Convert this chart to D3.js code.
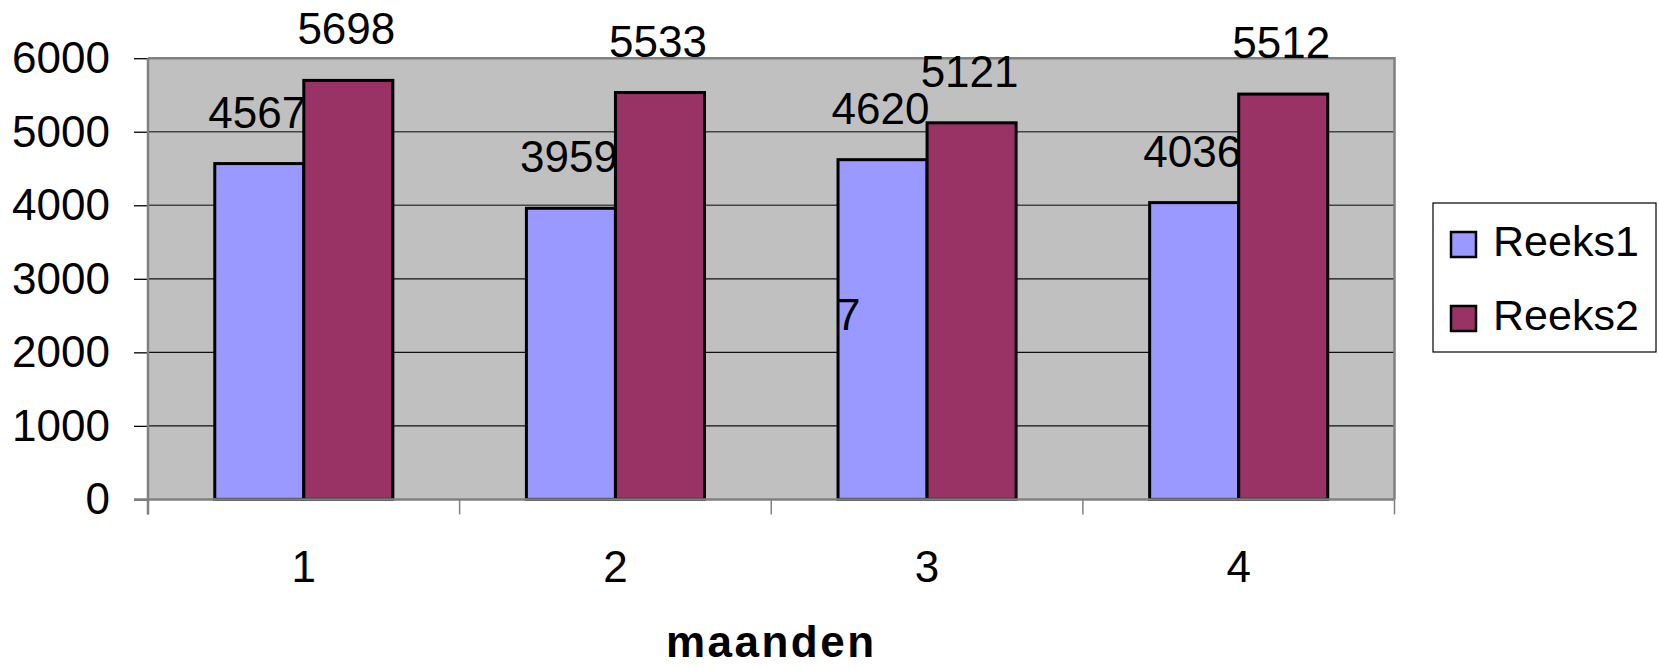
<!DOCTYPE html>
<html><head><meta charset="utf-8">
<script src="https://cdn.jsdelivr.net/npm/d3@7"></script>
<style>
html,body{margin:0;padding:0;background:#fff;}
svg{display:block;font-family:"Liberation Sans",Arial,sans-serif;}
</style></head>
<body><svg id="c" width="1659" height="667"></svg>
<script>
const categories = ["1","2","3","4"];
const seriesNames = ["Reeks1","Reeks2"];
const reeks1 = [4567, 3959, 4620, 4036];
const reeks2 = [5698, 5533, 5121, 5512];
const yTicks = [0,1000,2000,3000,4000,5000,6000];
const colors = ["#9999FF","#993366"];
const xTitle = "maanden";
const strayText = [{cat:"3", series:0, value:2300, text:"7"}];

const svg = d3.select("#c");
const L = 148, R = 1394.5, T = 58.2, B = 499.4;
const x = d3.scaleBand().domain(categories).range([L, R]).paddingInner(0).paddingOuter(0);
const bw = x.bandwidth();
const barW = bw / 3.5;
const x1 = d3.scaleBand().domain(seriesNames).range([barW*0.75, bw - barW*0.75]).padding(0);
const y = d3.scaleLinear().domain([0, 6000]).range([B, T]);
const FS = 44;

svg.append("rect").attr("x", L).attr("y", T).attr("width", R-L).attr("height", B-T).attr("fill", "#C0C0C0");

svg.append("g").selectAll("line").data(yTicks.filter(d => d > 0 && d < 6000)).join("line")
  .attr("x1", L).attr("x2", R).attr("y1", d => y(d)).attr("y2", d => y(d))
  .attr("stroke", d => d >= 4000 ? "#444" : "#111").attr("stroke-width", 1.3);

svg.append("path").attr("d", `M${L},${T}H${R}V${B}`).attr("fill","none").attr("stroke","#808080").attr("stroke-width",2.5);

const data = [];
categories.forEach((c,i) => {
  data.push({cat:c, s:seriesNames[0], v:reeks1[i], k:0});
  data.push({cat:c, s:seriesNames[1], v:reeks2[i], k:1});
});
svg.append("g").selectAll("rect").data(data).join("rect")
  .attr("x", d => x(d.cat) + x1(d.s))
  .attr("y", d => y(d.v))
  .attr("width", x1.bandwidth())
  .attr("height", d => y(0) - y(d.v))
  .attr("fill", d => colors[d.k])
  .attr("stroke", "#000").attr("stroke-width", 3);

const yAxis = d3.axisLeft(y).tickValues(yTicks).tickSize(14).tickPadding(24).tickFormat(d3.format("d"));
const ga = svg.append("g").attr("transform", `translate(${L},0)`).call(yAxis);
ga.select(".domain").remove();
ga.selectAll(".tick line").attr("stroke", "#000").attr("stroke-width", 1.3);
ga.selectAll(".tick text").attr("font-size", FS).attr("fill", "#000").attr("dy", "0.33em")
  .attr("font-family", "Liberation Sans, Arial, sans-serif");

svg.append("line").attr("x1", L).attr("x2", L).attr("y1", T).attr("y2", B + 15).attr("stroke", "#808080").attr("stroke-width", 2.5);
svg.append("line").attr("x1", L - 14).attr("x2", R).attr("y1", B).attr("y2", B).attr("stroke", "#808080").attr("stroke-width", 2.5);

const edges = categories.map(c => x(c)).concat([x(categories[categories.length-1]) + bw]);
svg.append("g").selectAll("line").data(edges).join("line")
  .attr("x1", d => d).attr("x2", d => d).attr("y1", B).attr("y2", B + 15)
  .attr("stroke", "#808080").attr("stroke-width", 1.5);

svg.append("g").selectAll("text").data(categories).join("text")
  .attr("x", d => x(d) + bw/2).attr("y", 582)
  .attr("text-anchor", "middle").attr("font-size", FS).text(d => d);

svg.append("g").selectAll("text").data(data).join("text")
  .attr("x", d => x(d.cat) + x1(d.s) + x1.bandwidth()/2 - 2)
  .attr("y", d => y(d.v) - 36)
  .attr("text-anchor", "middle").attr("font-size", FS).text(d => d.v);

svg.append("g").selectAll("text").data(strayText).join("text")
  .attr("x", d => x(d.cat) + x1(seriesNames[d.series]) - 2)
  .attr("y", d => y(d.value))
  .attr("font-size", FS).text(d => d.text);

svg.append("text").attr("x", (L+R)/2).attr("y", 657).attr("text-anchor", "middle")
  .attr("font-size", 44).attr("font-weight", "bold").attr("letter-spacing", 2.5).text(xTitle);

const lg = svg.append("g");
lg.append("rect").attr("x", 1433).attr("y", 203).attr("width", 223).attr("height", 149)
  .attr("fill", "#fff").attr("stroke", "#000").attr("stroke-width", 1.2);
seriesNames.forEach((s, i) => {
  lg.append("rect").attr("x", 1451).attr("y", 232 + i*74).attr("width", 25).attr("height", 25)
    .attr("fill", colors[i]).attr("stroke", "#000").attr("stroke-width", 2.5);
  lg.append("text").attr("x", 1493).attr("y", 256 + i*73.5).attr("font-size", 43).text(s);
});
</script></body></html>
